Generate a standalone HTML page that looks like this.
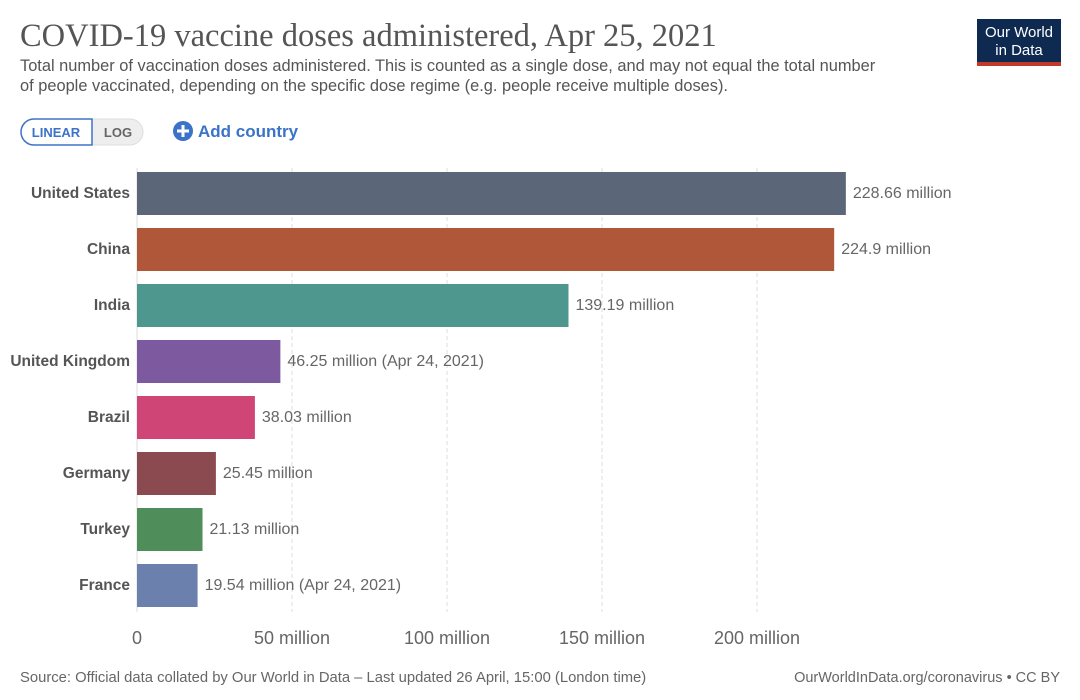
<!DOCTYPE html>
<html><head><meta charset="utf-8"><style>
body{margin:0;width:1080px;height:695px;background:#fff;overflow:hidden;font-family:"Liberation Sans",sans-serif;}
</style></head><body>
<svg width="1080" height="695">
<text x="20" y="46" font-family="Liberation Serif,serif" font-size="32.5" fill="#555">COVID-19 vaccine doses administered, Apr 25, 2021</text>
<text x="20" y="71" font-size="16.4" fill="#555">Total number of vaccination doses administered. This is counted as a single dose, and may not equal the total number</text>
<text x="20" y="91" font-size="16.4" fill="#555">of people vaccinated, depending on the specific dose regime (e.g. people receive multiple doses).</text>
<g>
<rect x="977" y="19" width="84" height="47" fill="#0e2a50"/>
<rect x="977" y="62" width="84" height="4" fill="#c0392b"/>
<text x="1019" y="37" font-size="15" fill="#fff" text-anchor="middle">Our World</text>
<text x="1019" y="55" font-size="15" fill="#fff" text-anchor="middle">in Data</text>
</g>
<g>
<rect x="21" y="119" width="122" height="26" rx="13" fill="#eee" stroke="#ddd"/>
<path d="M34,119 H92 V145 H34 A13,13 0 0 1 34,119 Z" fill="#fff" stroke="#3b73c8" stroke-width="1.5"/>
<text x="56" y="137" font-size="13" font-weight="bold" fill="#3b73c8" text-anchor="middle">LINEAR</text>
<text x="118" y="137" font-size="13" font-weight="bold" fill="#666" text-anchor="middle">LOG</text>
</g>
<g>
<circle cx="183" cy="131" r="10" fill="#3b73c8"/>
<path d="M177,131 H189 M183,125 V137" stroke="#fff" stroke-width="3"/>
<text x="198" y="137" font-size="17" font-weight="bold" fill="#3b73c8">Add country</text>
</g>
<g id="grid"></g><g id="bars"></g><g id="ticks"></g>
<text x="20" y="682" font-size="14.8" fill="#666">Source: Official data collated by Our World in Data – Last updated 26 April, 15:00 (London time)</text>
<text x="1060" y="682" font-size="14.5" fill="#666" text-anchor="end">OurWorldInData.org/coronavirus • CC BY</text>
</svg>
<script>
const countries=["United States","China","India","United Kingdom","Brazil","Germany","Turkey","France"];
const values=[228.66,224.9,139.19,46.25,38.03,25.45,21.13,19.54];
const labels=["228.66 million","224.9 million","139.19 million","46.25 million (Apr 24, 2021)","38.03 million","25.45 million","21.13 million","19.54 million (Apr 24, 2021)"];
const colors=["#5b6678","#b0573a","#4d978e","#7d5aa0","#cf4576","#8b4a50","#4f8d5b","#6b80ad"];
const tickVals=[0,50,100,150,200];
const tickLabels=["0","50 million","100 million","150 million","200 million"];
const NS="http://www.w3.org/2000/svg";
const x=v=>137+v*3.1;
const y=i=>172+i*56;
function mk(t,a,p){const e=document.createElementNS(NS,t);for(const k in a)e.setAttribute(k,a[k]);p.appendChild(e);return e;}
const g=document.getElementById('grid'),b=document.getElementById('bars'),tk=document.getElementById('ticks');
tickVals.forEach((v,i)=>{
 const l=mk('line',{x1:x(v),x2:x(v),y1:168,y2:612,stroke:'#ddd','stroke-dasharray':v?'4,3':'none'},g);
 
 
 const t=mk('text',{x:x(v),y:644,'font-size':18,fill:'#666','text-anchor':'middle'},tk);
 t.textContent=tickLabels[i];
 
 
});
countries.forEach((c,i)=>{
 const r=mk('rect',{x:x(0),y:y(i),width:x(values[i])-x(0),height:43,fill:colors[i]},b);
 
 
 const n=mk('text',{x:130,y:y(i)+26,'font-size':15.5,'font-weight':'bold',fill:'#555','text-anchor':'end'},b);
 n.textContent=c;
 
 
 const v=mk('text',{x:x(values[i])+7,y:y(i)+26,'font-size':16,fill:'#666'},b);
 v.textContent=labels[i];
 
 
});
</script>
</body></html>
